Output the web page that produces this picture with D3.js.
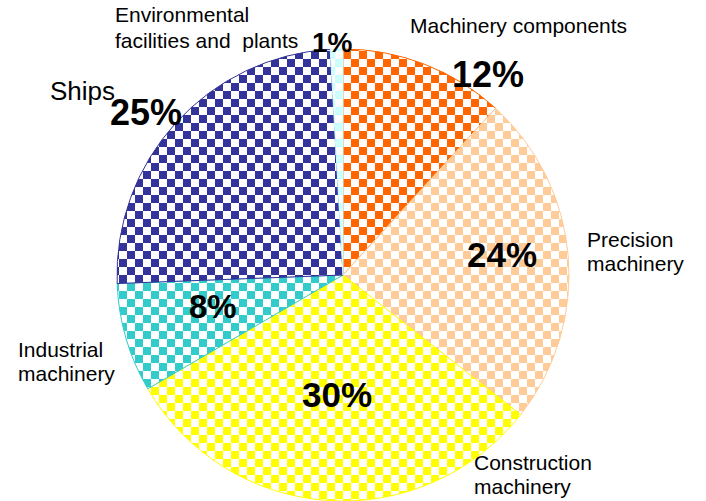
<!DOCTYPE html>
<html>
<head>
<meta charset="utf-8">
<script src="https://cdn.jsdelivr.net/npm/d3@7"></script>
<style>
  html, body { margin: 0; padding: 0; background: #fff; }
  svg { display: block; }
  text { font-family: "Liberation Sans", Arial, sans-serif; fill: #000; }
  .pct { font-weight: bold; }
</style>
</head>
<body>
<svg id="chart" width="706" height="501"></svg>
<script>
// slice order, clockwise from 12 o'clock
const categories = ['Machinery components', 'Precision machinery', 'Construction machinery',
                    'Industrial machinery', 'Ships', 'Environmental facilities and plants'];
// shares; printed labels are the rounded figures on the chart
const shares = [11.8, 23.8, 31.0, 7.8, 24.7, 0.9];
const pctLabels = ['12%', '24%', '30%', '8%', '25%', '1%'];
const colors = ['#ff6600', '#ffcc99', '#ffff00', '#33cccc', '#333399', '#ccffff'];

// label placement (name lines + percent position)
const nameLines = [
  ['Machinery components'],
  ['Precision', 'machinery'],
  ['Construction', 'machinery'],
  ['Industrial', 'machinery'],
  ['Ships'],
  ['Environmental', 'facilities and  plants'],
];
const nameAt  = [[410, 33], [587, 247], [474, 470], [18, 357], [50, 100], [115, 22]];
const pctAt   = [[452, 87], [467, 267], [302, 407], [189, 318], [110, 125], [312, 52]];
const pctSize = [36, 35, 35, 33, 36, 28];

const svg = d3.select('#chart');
const cx = 343, cy = 275, R = 226;

const defs = svg.append('defs');
colors.forEach((c, i) => {
  const p = defs.append('pattern')
    .attr('id', 'chk' + i)
    .attr('patternUnits', 'userSpaceOnUse')
    .attr('width', 16).attr('height', 16);
  p.append('rect').attr('width', 16).attr('height', 16).attr('fill', '#fff');
  p.append('rect').attr('width', 8).attr('height', 8).attr('fill', c);
  p.append('rect').attr('x', 8).attr('y', 8).attr('width', 8).attr('height', 8).attr('fill', c);
});

const pie = d3.pie().sort(null).value(d => d)(shares);
const arc = d3.arc().innerRadius(0).outerRadius(R);

svg.append('g')
  .attr('transform', `translate(${cx},${cy})`)
  .selectAll('path')
  .data(pie)
  .join('path')
  .attr('d', arc)
  .attr('fill', (d, i) => `url(#chk${i})`)
  .attr('stroke', (d, i) => colors[i])
  .attr('stroke-width', 1);

const labels = svg.append('g');

nameLines.forEach((lines, i) => {
  const t = labels.append('text')
    .attr('x', nameAt[i][0]).attr('y', nameAt[i][1])
    .style('font-size', i === 4 ? '26px' : '21px');
  lines.forEach((ln, j) => {
    t.append('tspan')
      .attr('x', nameAt[i][0])
      .attr('dy', j === 0 ? 0 : (i === 5 ? 26 : 24))
      .attr('xml:space', 'preserve')
      .text(ln);
  });
});

pctLabels.forEach((s, i) => {
  labels.append('text')
    .attr('class', 'pct')
    .attr('x', pctAt[i][0]).attr('y', pctAt[i][1])
    .style('font-size', pctSize[i] + 'px')
    .text(s);
});
</script>
</body>
</html>
